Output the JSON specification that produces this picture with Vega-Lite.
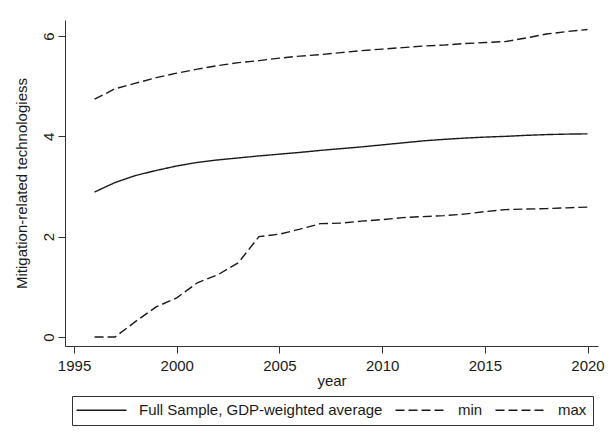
{
  "$schema": "https://vega.github.io/schema/vega-lite/v6.json",
  "autosize": {"type": "none"},
  "width": 533,
  "height": 326,
  "padding": {"left": 65, "top": 20, "right": 16, "bottom": 95},
  "background": "white",
  "config": {
    "view": {"stroke": null},
    "font": "Liberation Sans",
    "axis": {
      "grid": false,
      "domainColor": "#333333",
      "domainWidth": 1,
      "tickColor": "#333333",
      "tickWidth": 1,
      "tickSize": 7,
      "labelFont": "Liberation Sans",
      "labelFontSize": 15,
      "labelColor": "#1a1a1a",
      "titleFont": "Liberation Sans",
      "titleFontSize": 15,
      "titleFontWeight": "normal",
      "titleColor": "#1a1a1a"
    }
  },
  "data": {
    "values": [
      {"year": 1996, "series": "Full Sample, GDP-weighted average", "value": 2.89},
      {"year": 1997, "series": "Full Sample, GDP-weighted average", "value": 3.08},
      {"year": 1998, "series": "Full Sample, GDP-weighted average", "value": 3.22},
      {"year": 1999, "series": "Full Sample, GDP-weighted average", "value": 3.32},
      {"year": 2000, "series": "Full Sample, GDP-weighted average", "value": 3.41},
      {"year": 2001, "series": "Full Sample, GDP-weighted average", "value": 3.48},
      {"year": 2002, "series": "Full Sample, GDP-weighted average", "value": 3.53},
      {"year": 2003, "series": "Full Sample, GDP-weighted average", "value": 3.57},
      {"year": 2004, "series": "Full Sample, GDP-weighted average", "value": 3.61},
      {"year": 2005, "series": "Full Sample, GDP-weighted average", "value": 3.645},
      {"year": 2006, "series": "Full Sample, GDP-weighted average", "value": 3.68},
      {"year": 2007, "series": "Full Sample, GDP-weighted average", "value": 3.72},
      {"year": 2008, "series": "Full Sample, GDP-weighted average", "value": 3.755},
      {"year": 2009, "series": "Full Sample, GDP-weighted average", "value": 3.79},
      {"year": 2010, "series": "Full Sample, GDP-weighted average", "value": 3.83},
      {"year": 2011, "series": "Full Sample, GDP-weighted average", "value": 3.87},
      {"year": 2012, "series": "Full Sample, GDP-weighted average", "value": 3.91},
      {"year": 2013, "series": "Full Sample, GDP-weighted average", "value": 3.94},
      {"year": 2014, "series": "Full Sample, GDP-weighted average", "value": 3.965},
      {"year": 2015, "series": "Full Sample, GDP-weighted average", "value": 3.985},
      {"year": 2016, "series": "Full Sample, GDP-weighted average", "value": 4.0},
      {"year": 2017, "series": "Full Sample, GDP-weighted average", "value": 4.02},
      {"year": 2018, "series": "Full Sample, GDP-weighted average", "value": 4.035},
      {"year": 2019, "series": "Full Sample, GDP-weighted average", "value": 4.045},
      {"year": 2020, "series": "Full Sample, GDP-weighted average", "value": 4.05},

      {"year": 1996, "series": "min", "value": 0.0},
      {"year": 1997, "series": "min", "value": 0.0},
      {"year": 1998, "series": "min", "value": 0.31},
      {"year": 1999, "series": "min", "value": 0.6},
      {"year": 2000, "series": "min", "value": 0.78},
      {"year": 2001, "series": "min", "value": 1.08},
      {"year": 2002, "series": "min", "value": 1.24},
      {"year": 2003, "series": "min", "value": 1.48},
      {"year": 2004, "series": "min", "value": 2.0},
      {"year": 2005, "series": "min", "value": 2.05},
      {"year": 2006, "series": "min", "value": 2.15},
      {"year": 2007, "series": "min", "value": 2.26},
      {"year": 2008, "series": "min", "value": 2.27},
      {"year": 2009, "series": "min", "value": 2.31},
      {"year": 2010, "series": "min", "value": 2.34},
      {"year": 2011, "series": "min", "value": 2.38},
      {"year": 2012, "series": "min", "value": 2.4},
      {"year": 2013, "series": "min", "value": 2.42},
      {"year": 2014, "series": "min", "value": 2.45},
      {"year": 2015, "series": "min", "value": 2.5},
      {"year": 2016, "series": "min", "value": 2.54},
      {"year": 2017, "series": "min", "value": 2.55},
      {"year": 2018, "series": "min", "value": 2.56},
      {"year": 2019, "series": "min", "value": 2.575},
      {"year": 2020, "series": "min", "value": 2.59},

      {"year": 1996, "series": "max", "value": 4.74},
      {"year": 1997, "series": "max", "value": 4.95},
      {"year": 1998, "series": "max", "value": 5.06},
      {"year": 1999, "series": "max", "value": 5.17},
      {"year": 2000, "series": "max", "value": 5.26},
      {"year": 2001, "series": "max", "value": 5.34},
      {"year": 2002, "series": "max", "value": 5.41},
      {"year": 2003, "series": "max", "value": 5.47},
      {"year": 2004, "series": "max", "value": 5.51},
      {"year": 2005, "series": "max", "value": 5.56},
      {"year": 2006, "series": "max", "value": 5.6},
      {"year": 2007, "series": "max", "value": 5.63},
      {"year": 2008, "series": "max", "value": 5.67},
      {"year": 2009, "series": "max", "value": 5.71},
      {"year": 2010, "series": "max", "value": 5.74},
      {"year": 2011, "series": "max", "value": 5.77},
      {"year": 2012, "series": "max", "value": 5.8},
      {"year": 2013, "series": "max", "value": 5.82},
      {"year": 2014, "series": "max", "value": 5.85},
      {"year": 2015, "series": "max", "value": 5.87},
      {"year": 2016, "series": "max", "value": 5.89},
      {"year": 2017, "series": "max", "value": 5.96},
      {"year": 2018, "series": "max", "value": 6.04},
      {"year": 2019, "series": "max", "value": 6.09},
      {"year": 2020, "series": "max", "value": 6.13}
    ]
  },
  "mark": {"type": "line", "color": "#1a1a1a", "strokeWidth": 1.4},
  "encoding": {
    "x": {
      "field": "year",
      "type": "quantitative",
      "scale": {"domain": [1994.56, 2020.51], "nice": false, "zero": false},
      "axis": {
        "values": [1995, 2000, 2005, 2010, 2015, 2020],
        "format": "d",
        "labelPadding": 5,
        "title": "year",
        "titlePadding": 0
      }
    },
    "y": {
      "field": "value",
      "type": "quantitative",
      "scale": {"domain": [-0.18, 6.32], "nice": false, "zero": false},
      "axis": {
        "values": [0, 2, 4, 6],
        "format": "d",
        "labelAngle": -90,
        "labelAlign": "center",
        "labelBaseline": "alphabetic",
        "labelPadding": 4.5,
        "title": "Mitigation-related technologiess",
        "titlePadding": 12
      }
    },
    "strokeDash": {
      "field": "series",
      "type": "nominal",
      "scale": {
        "domain": ["Full Sample, GDP-weighted average", "min", "max"],
        "range": [[1, 0], [9, 4], [9, 4]]
      },
      "legend": {
        "title": null,
        "orient": "none",
        "direction": "horizontal",
        "legendX": 7,
        "legendY": 376,
        "padding": 6.5,
        "strokeColor": "#333333",
        "fillColor": "white",
        "columnPadding": 10,
        "symbolType": "M-5,0H5",
        "symbolSize": 100,
        "symbolOffset": 15.5,
        "symbolStrokeWidth": 1.4,
        "symbolStrokeColor": "#1a1a1a",
        "symbolFillColor": "transparent",
        "labelOffset": 30,
        "labelLimit": 400,
        "labelFont": "Liberation Sans",
        "labelFontSize": 15,
        "labelColor": "#1a1a1a"
      }
    }
  }
}
